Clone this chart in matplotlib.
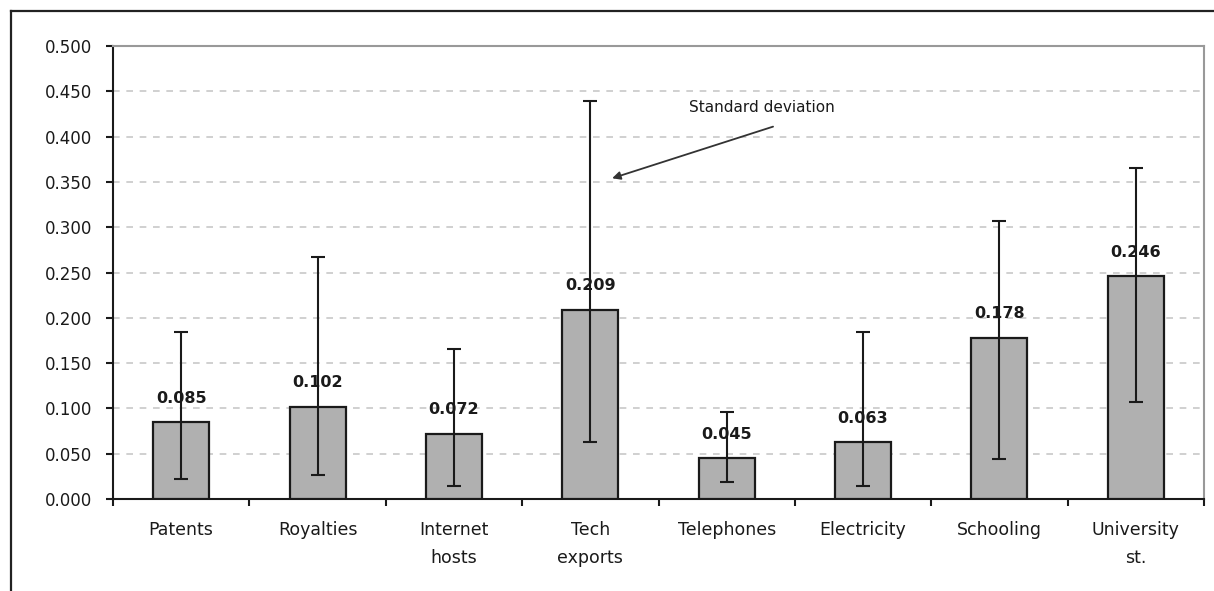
import numpy as np
import matplotlib.pyplot as plt
from matplotlib.lines import Line2D

# categories and mean values shown on the bars
categories = ['Patents', 'Royalties', 'Internet\nhosts', 'Tech\nexports',
              'Telephones', 'Electricity', 'Schooling', 'University\nst.']
means = np.array([0.085, 0.102, 0.072, 0.209, 0.045, 0.063, 0.178, 0.246])
# ends of the standard deviation whiskers
err_low = np.array([0.022, 0.026, 0.014, 0.063, 0.019, 0.014, 0.044, 0.107])
err_high = np.array([0.184, 0.267, 0.166, 0.439, 0.096, 0.184, 0.307, 0.365])

x = np.arange(len(categories))

fig = plt.figure(figsize=(12.14, 5.91), dpi=100)
ax = fig.add_axes([113 / 1214, 1 - 499 / 591, (1204 - 113) / 1214, (499 - 46) / 591])

# border round the whole figure (top and left only, as in the scan)
fig.add_artist(Line2D([11 / 1214, 1], [1 - 11 / 591, 1 - 11 / 591],
                      transform=fig.transFigure, color='#222222', lw=1.6))
fig.add_artist(Line2D([11 / 1214, 11 / 1214], [1 - 11 / 591, 0],
                      transform=fig.transFigure, color='#222222', lw=1.6))

ax.bar(x, means, width=0.41, color='#b0b0b0', edgecolor='#1a1a1a', linewidth=1.6, zorder=3)
yerr = np.vstack([means - err_low, err_high - means])
ax.errorbar(x, means, yerr=yerr, fmt='none', ecolor='#1a1a1a', elinewidth=1.5,
            capsize=5, capthick=1.5, zorder=4)

for xi, m in zip(x, means):
    ax.text(xi, m + 0.018, f'{m:.3f}', ha='center', va='bottom',
            fontsize=11.5, fontweight='bold', color='#1a1a1a', zorder=5)

ax.set_xlim(-0.5, len(categories) - 0.5)
ax.set_ylim(0, 0.5)
ax.set_yticks(np.arange(0, 0.501, 0.05))
ax.set_yticklabels([f'{v:.3f}' for v in np.arange(0, 0.501, 0.05)])
ax.set_xticks(x)
ax.set_xticklabels(categories, linespacing=1.7)
ax.set_xticks(np.arange(-0.5, len(categories)), minor=True)
ax.tick_params(axis='x', which='major', length=0, pad=16, labelsize=12.5, colors='#1a1a1a')
ax.tick_params(axis='x', which='minor', length=5, width=1.5, direction='out', color='#1a1a1a')
ax.tick_params(axis='y', length=5, width=1.5, direction='out', pad=10, labelsize=12,
               colors='#1a1a1a')

ax.grid(axis='y', color='#c8c8c8', linestyle=(0, (4, 4)), linewidth=1.2, zorder=0)
ax.set_axisbelow(True)
ax.spines['left'].set_color('#1a1a1a')
ax.spines['bottom'].set_color('#1a1a1a')
ax.spines['left'].set_linewidth(1.5)
ax.spines['bottom'].set_linewidth(1.5)
ax.spines['top'].set_color('#999999')
ax.spines['right'].set_color('#999999')
ax.spines['top'].set_linewidth(1.5)
ax.spines['right'].set_linewidth(1.5)

# arrow pointing at the Tech exports whisker, label placed above its tail
ax.annotate('', xy=(3.16, 0.354), xytext=(4.34, 0.411),
            arrowprops=dict(arrowstyle='-|>', color='#333333', lw=1.3,
                            mutation_scale=12, shrinkA=0, shrinkB=0))
ax.text(3.72, 0.432, 'Standard deviation', fontsize=11, color='#1a1a1a',
        ha='left', va='center')

fig.savefig('out.png', dpi=100)
